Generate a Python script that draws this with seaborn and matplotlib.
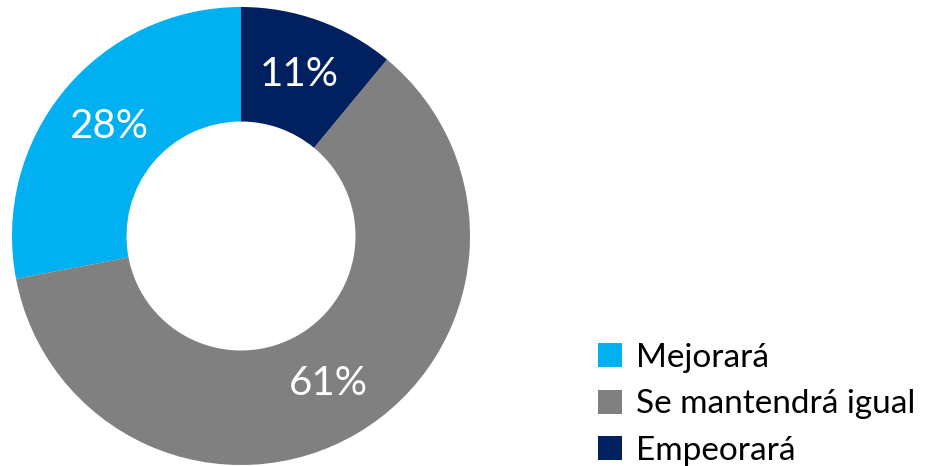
import matplotlib
matplotlib.use("Agg")
import matplotlib.pyplot as plt
import seaborn as sns

categories = ['Mejorará', 'Se mantendrá igual', 'Empeorará']
values = [28, 61, 11]
colors = ['#00B0F0', '#808080', '#002060']

sns.set_theme(style="white")
plt.rcParams['font.family'] = ['Lato', 'DejaVu Sans']

fig = plt.figure(figsize=(9.27, 4.66), dpi=100)
ax = fig.add_axes([12/927, 1/466, 458/927, 458/466])

wedges, texts, autotexts = ax.pie(
    values, colors=sns.color_palette(colors), startangle=90, counterclock=True,
    radius=1, wedgeprops=dict(width=0.5, edgecolor='none'),
    autopct=lambda p: f'{p:.0f}%', pctdistance=0.75,
)
for t in autotexts:
    t.set_color('white')
    t.set_fontsize(29)
ax.set_xlim(-1, 1)
ax.set_ylim(-1, 1)
ax.set_aspect('equal')
ax.axis('off')

leg = fig.legend(wedges, categories, loc='lower left', bbox_to_anchor=(598/927, 0.0),
                 bbox_transform=fig.transFigure, frameon=False,
                 prop=dict(size=24), handlelength=0.73, handleheight=0.73,
                 handletextpad=0.4, labelspacing=0.5, borderpad=0, borderaxespad=0)
for t in leg.get_texts():
    t.set_color('black')

plt.savefig('out.png', dpi=100)
